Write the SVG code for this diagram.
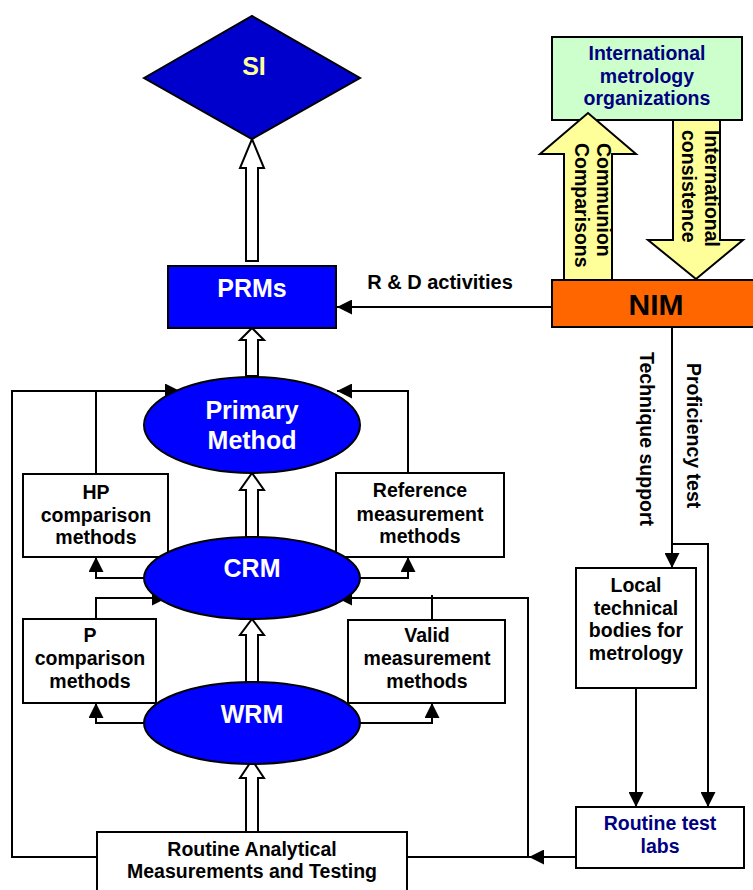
<svg xmlns="http://www.w3.org/2000/svg" width="753" height="890" viewBox="0 0 753 890">
<defs>
<style>
text{font-family:"Liberation Sans",Arial,sans-serif;font-weight:bold;text-anchor:middle}
.lbl{font-size:19.5px;fill:#000}
.big{font-size:25px;fill:#fff}
.box{fill:#fff;stroke:#000;stroke-width:2}
.blue{fill:#0000FF;stroke:#000;stroke-width:2}
.hollow{fill:#fff;stroke:#000;stroke-width:2}
.yel{fill:#FFFF99;stroke:#000;stroke-width:2}
.ln{fill:none;stroke:#000;stroke-width:2}
.navy{fill:#000080}
</style>
<marker id="ah" viewBox="0 0 10 10" refX="10" refY="5" markerWidth="15" markerHeight="15" markerUnits="userSpaceOnUse" orient="auto">
<path d="M0,0 L10,5 L0,10 Z" fill="#000"/>
</marker>
</defs>
<rect width="753" height="890" fill="#fff"/>

<g id="connectors">
<!-- hollow arrows -->
<polygon class="hollow" points="246,261 246,168 240,168 252,139 264,168 258,168 258,261"/>
<polygon class="hollow" points="246,376 246,340 240,340 252,328 264,340 258,340 258,376"/>
<polygon class="hollow" points="246,537 246,490 240,490 252,473 264,490 258,490 258,537"/>
<polygon class="hollow" points="246,682 246,635 240,635 252,619 264,635 258,635 258,682"/>
<polygon class="hollow" points="246,832 246,778 240,778 252,760 264,778 258,778 258,832"/>
<!-- R&D -->
<line class="ln" x1="552" y1="307" x2="337" y2="307" marker-end="url(#ah)"/>
<!-- outer left loop -->
<polyline class="ln" points="96,857 12,857 12,391 180,391" marker-end="url(#ah)"/>
<line class="ln" x1="96" y1="474" x2="96" y2="391"/>
<!-- right to primary -->
<polyline class="ln" points="408,473 408,391 337,391" marker-end="url(#ah)"/>
<!-- CRM to HP / Reference -->
<polyline class="ln" points="150,578 96,578 96,557" marker-end="url(#ah)"/>
<polyline class="ln" points="355,578 408,578 408,557" marker-end="url(#ah)"/>
<!-- P box to CRM -->
<polyline class="ln" points="96,619 96,598 167,598" marker-end="url(#ah)"/>
<!-- right loop to CRM -->
<polyline class="ln" points="528,857 528,598 337,598" marker-end="url(#ah)"/>
<line class="ln" x1="432" y1="595" x2="432" y2="620"/>
<!-- WRM to P / Valid -->
<polyline class="ln" points="150,723 96,723 96,703" marker-end="url(#ah)"/>
<polyline class="ln" points="355,723 432,723 432,703" marker-end="url(#ah)"/>
<!-- routine test labs to routine analytical -->
<line class="ln" x1="407" y1="857" x2="576" y2="857"/>
<line class="ln" x1="576" y1="857" x2="529" y2="857" marker-end="url(#ah)"/>
<!-- NIM down -->
<line class="ln" x1="672" y1="327" x2="672" y2="568" marker-end="url(#ah)"/>
<polyline class="ln" points="672,544 708,544 708,807" marker-end="url(#ah)"/>
<line class="ln" x1="636" y1="688" x2="636" y2="807" marker-end="url(#ah)"/>
<!-- labels -->
<text class="lbl" x="440" y="289" style="font-size:20px">R &amp; D activities</text>
<text class="lbl" transform="translate(640,352) rotate(90)" style="text-anchor:start">Technique support</text>
<text class="lbl" transform="translate(687,363) rotate(90)" style="text-anchor:start">Proficiency test</text>
</g>

<g id="si">
<polygon points="144,78 252,16 360,78 252,139" fill="#0000CC" stroke="#000" stroke-width="2"/>
<text x="254" y="75" style="font-size:25px;fill:#FFFF99">SI</text>
</g>

<g id="prms">
<rect class="blue" x="168" y="266" width="168" height="62"/>
<text class="big" x="252" y="297">PRMs</text>
</g>

<g id="intl">
<rect x="552" y="37" width="190" height="83" fill="#CCFFCC" stroke="#000" stroke-width="2"/>
<text class="lbl navy" x="647" y="60">International</text>
<text class="lbl navy" x="647" y="83">metrology</text>
<text class="lbl navy" x="647" y="105">organizations</text>
</g>

<g id="communion">
<polygon class="yel" points="564,280 564,154 540,154 588,113 636,154 612,154 612,280"/>
<text class="lbl" transform="translate(597,143) rotate(90)" style="text-anchor:start">Communion</text>
<text class="lbl" transform="translate(575,143) rotate(90)" style="text-anchor:start">Comparisons</text>
</g>

<g id="consistence">
<polygon class="yel" points="673,120 720,120 720,240 743,240 696,279 648,240 673,240"/>
<text class="lbl" transform="translate(705,130) rotate(90)" style="text-anchor:start">International</text>
<text class="lbl" transform="translate(682,130) rotate(90)" style="text-anchor:start">consistence</text>
</g>

<g id="nim">
<rect x="552" y="280" width="210" height="47" fill="#FF6600" stroke="#000" stroke-width="2"/>
<text x="656" y="315" style="font-size:30px;fill:#000">NIM</text>
</g>

<g id="hp">
<rect class="box" x="23" y="474" width="145" height="83"/>
<text class="lbl" x="96" y="499">HP</text>
<text class="lbl" x="96" y="522">comparison</text>
<text class="lbl" x="96" y="544">methods</text>
</g>

<g id="reference">
<rect class="box" x="336" y="473" width="168" height="84"/>
<text class="lbl" x="420" y="497">Reference</text>
<text class="lbl" x="420" y="521">measurement</text>
<text class="lbl" x="420" y="543">methods</text>
</g>

<g id="p">
<rect class="box" x="23" y="619" width="133" height="84"/>
<text class="lbl" x="90" y="642">P</text>
<text class="lbl" x="90" y="665">comparison</text>
<text class="lbl" x="90" y="688">methods</text>
</g>

<g id="valid">
<rect class="box" x="348" y="620" width="157" height="83"/>
<text class="lbl" x="427" y="642">Valid</text>
<text class="lbl" x="427" y="665">measurement</text>
<text class="lbl" x="427" y="688">methods</text>
</g>

<g id="primary">
<ellipse class="blue" cx="252" cy="425" rx="108" ry="48"/>
<text class="big" x="252" y="419">Primary</text>
<text class="big" x="252" y="449">Method</text>
</g>

<g id="crm">
<ellipse class="blue" cx="252" cy="578" rx="108" ry="41"/>
<text class="big" x="252" y="577">CRM</text>
</g>

<g id="wrm">
<ellipse class="blue" cx="252" cy="723" rx="108" ry="41"/>
<text class="big" x="252" y="723">WRM</text>
</g>

<g id="routine">
<rect class="box" x="97" y="832" width="310" height="65"/>
<text class="lbl" x="252" y="856">Routine Analytical</text>
<text class="lbl" x="252" y="878">Measurements and Testing</text>
</g>

<g id="local">
<rect class="box" x="576" y="568" width="120" height="120"/>
<text class="lbl" x="636" y="592">Local</text>
<text class="lbl" x="636" y="615">technical</text>
<text class="lbl" x="636" y="637">bodies for</text>
<text class="lbl" x="636" y="660">metrology</text>
</g>

<g id="labs">
<rect class="box" x="576" y="807" width="168" height="61"/>
<text class="lbl navy" x="660" y="830">Routine test</text>
<text class="lbl navy" x="660" y="853">labs</text>
</g>
</svg>
